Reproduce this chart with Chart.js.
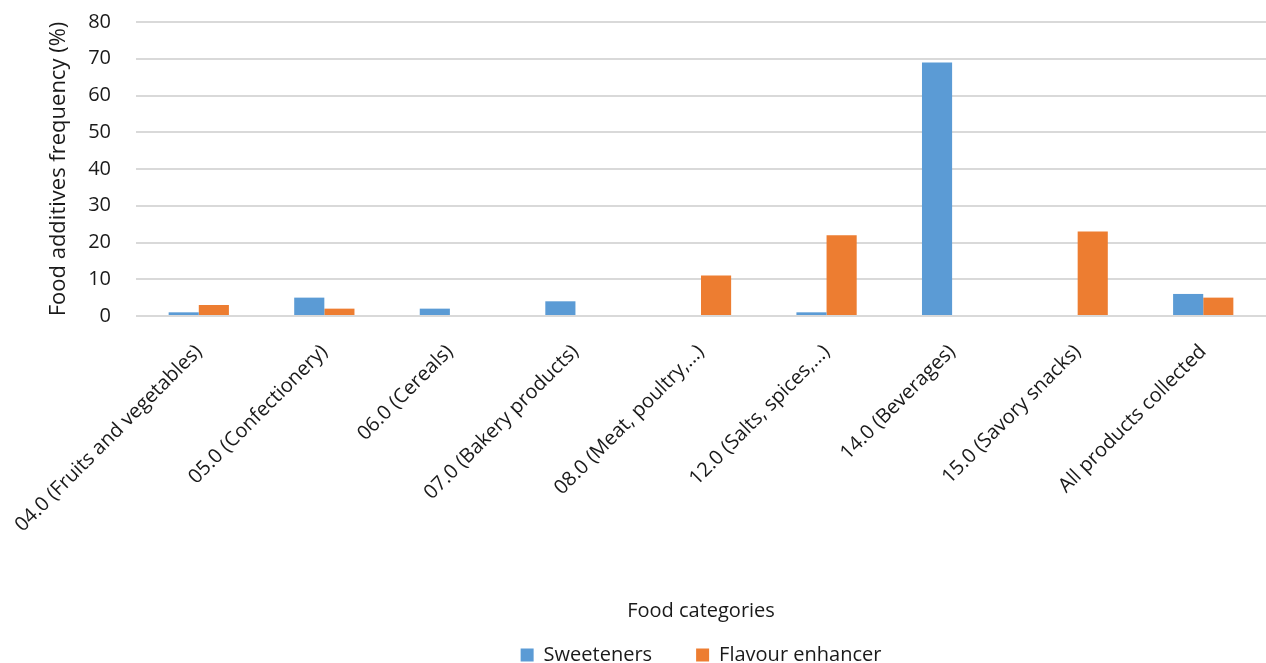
<!DOCTYPE html>
<html lang="en">
<head>
    <meta charset="UTF-8">
    <title>Food additives frequency</title>
    <script src="https://cdn.jsdelivr.net/npm/chart.js"></script>
    <style>
        html, body { margin: 0; padding: 0; background: #fff; }
        #wrap { width: 1266px; height: 663px; }
    </style>
</head>
<body>
    <div id="wrap"><canvas id="additivesChart" width="1266" height="663"></canvas></div>
    <script>
        // categories on the x axis
        const categories = [
            '04.0 (Fruits and vegetables)',
            '05.0 (Confectionery)',
            '06.0 (Cereals)',
            '07.0 (Bakery products)',
            '08.0 (Meat, poultry,...)',
            '12.0 (Salts, spices,...)',
            '14.0 (Beverages)',
            '15.0 (Savory snacks)',
            'All products collected'
        ];

        // series values (%)
        const sweeteners = [1, 5, 2, 4, 0, 1, 69, 0, 6];
        const flavourEnhancer = [3, 2, 0, 0, 11, 22, 0, 23, 5];

        // y axis range
        const yMin = 0;
        const yMax = 80;
        const yStep = 10;

        const font = '"Open Sans", "Liberation Sans", sans-serif';
        const textColor = '#1a1a1a';

        // center the legend on the plot area, like the spreadsheet does
        const legendShift = {
            id: 'legendShift',
            afterLayout(chart) {
                if (chart.legend) chart.legend.left = chart.chartArea.left;
            }
        };

        const ctx = document.getElementById('additivesChart').getContext('2d');
        new Chart(ctx, {
            type: 'bar',
            data: {
                labels: categories,
                datasets: [
                    {
                        label: 'Sweeteners',
                        data: sweeteners,
                        backgroundColor: '#5b9bd5',
                        barPercentage: 1,
                        categoryPercentage: 0.48
                    },
                    {
                        label: 'Flavour enhancer',
                        data: flavourEnhancer,
                        backgroundColor: '#ed7d31',
                        barPercentage: 1,
                        categoryPercentage: 0.48
                    }
                ]
            },
            options: {
                responsive: false,
                animation: false,
                layout: { padding: { top: 22, right: 0, left: 0, bottom: -12 } },
                plugins: {
                    tooltip: { enabled: false },
                    legend: {
                        position: 'bottom',
                        labels: {
                            font: { family: font, size: 20 },
                            color: textColor,
                            boxWidth: 13,
                            boxHeight: 13,
                            padding: 44
                        }
                    }
                },
                scales: {
                    x: {
                        // invisible tick marks only provide the gap under the axis
                        grid: {
                            display: true,
                            drawOnChartArea: false,
                            color: 'transparent',
                            tickLength: 24
                        },
                        border: { display: false },
                        ticks: {
                            font: { family: font, size: 20 },
                            color: textColor,
                            minRotation: 45,
                            maxRotation: 45,
                            autoSkip: false,
                            padding: 0
                        },
                        title: {
                            display: true,
                            text: 'Food categories',
                            font: { family: font, size: 20 },
                            color: textColor,
                            padding: { top: 0, bottom: -22 }
                        },
                        afterFit: (scale) => { scale.height = 285; }
                    },
                    y: {
                        min: yMin,
                        max: yMax,
                        ticks: {
                            stepSize: yStep,
                            font: { family: font, size: 20 },
                            color: textColor,
                            padding: 0
                        },
                        grid: {
                            color: '#d9d9d9',
                            lineWidth: 2,
                            tickColor: 'transparent',
                            tickLength: 25
                        },
                        border: { display: false },
                        title: {
                            display: true,
                            text: 'Food additives frequency (%)',
                            font: { family: font, size: 22 },
                            color: textColor,
                            padding: { top: 46, bottom: 0 }
                        },
                        afterFit: (scale) => { scale.width = 136; }
                    }
                }
            },
            plugins: [legendShift]
        });
    </script>
</body>
</html>
